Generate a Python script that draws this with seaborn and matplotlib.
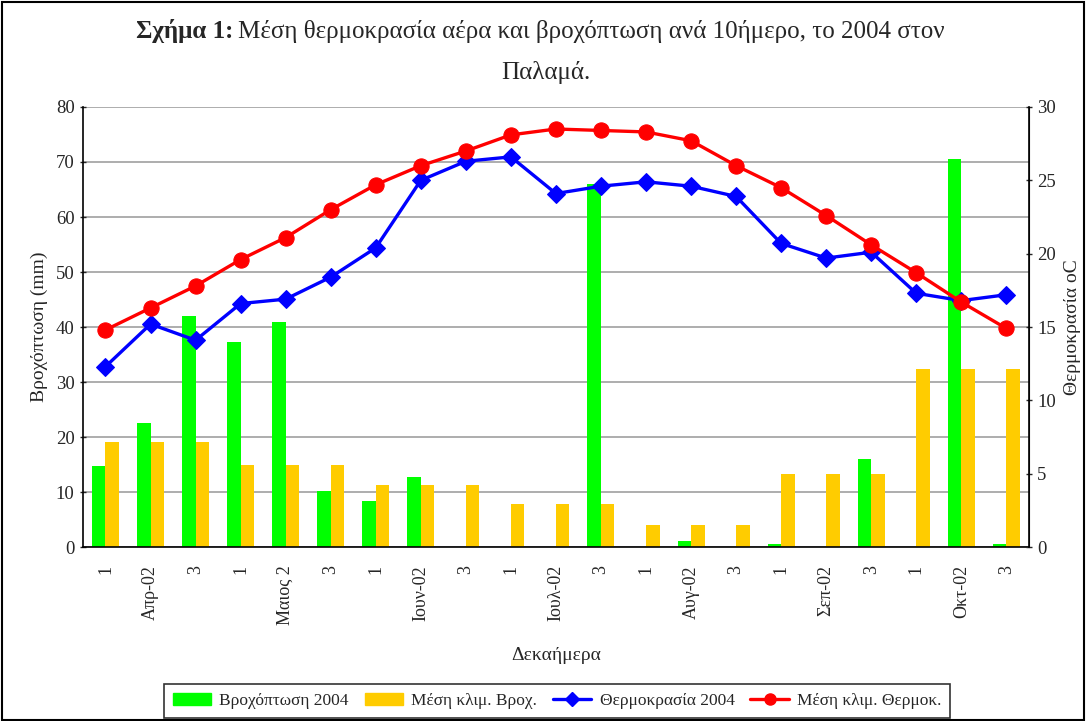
import numpy as np
import pandas as pd
import seaborn as sns
import matplotlib.pyplot as plt
from matplotlib.lines import Line2D
from matplotlib.patches import Patch, Rectangle

# Data (21 ten-day periods, April - October)
tick_labels = ['1', 'Απρ-02', '3', '1', 'Μαιος 2', '3', '1', 'Ιουν-02', '3',
               '1', 'Ιουλ-02', '3', '1', 'Αυγ-02', '3', '1', 'Σεπ-02', '3',
               '1', 'Οκτ-02', '3']
rain_2004 = [14.8, 22.5, 42.0, 37.3, 41.0, 10.2, 8.4, 12.7, 0.0, 0.0, 0.0,
             66.0, 0.0, 1.1, 0.0, 0.5, 0.0, 16.0, 0.0, 70.5, 0.5]
rain_clim = [19.1, 19.1, 19.1, 15.0, 15.0, 15.0, 11.3, 11.3, 11.3, 7.8, 7.8,
             7.8, 4.0, 4.0, 4.0, 13.3, 13.3, 13.3, 32.3, 32.3, 32.3]
temp_2004 = [12.3, 15.2, 14.1, 16.6, 16.9, 18.4, 20.4, 25.0, 26.3, 26.6, 24.1,
             24.6, 24.9, 24.6, 23.9, 20.7, 19.7, 20.1, 17.3, 16.8, 17.2]
temp_clim = [14.8, 16.3, 17.8, 19.6, 21.1, 23.0, 24.7, 26.0, 27.0, 28.1, 28.5,
             28.4, 28.3, 27.7, 26.0, 24.5, 22.6, 20.6, 18.7, 16.7, 14.9]

rain_names = ['Βροχόπτωση 2004', 'Μέση κλιμ. Βροχ.']
temp_names = ['Θερμοκρασία 2004', 'Μέση κλιμ. Θερμοκ.']

idx = np.arange(len(tick_labels))
rain_df = pd.DataFrame({
    'decade': np.concatenate([idx, idx]),
    'rain': rain_2004 + rain_clim,
    'series': [rain_names[0]] * len(idx) + [rain_names[1]] * len(idx),
})

sns.set_style('white')
plt.rcParams['font.family'] = ['Liberation Serif', 'DejaVu Serif']

fig = plt.figure(figsize=(10.86, 7.21), dpi=100)
ax = fig.add_axes([0.0764, 0.2413, 0.871, 0.6103])

sns.barplot(data=rain_df, x='decade', y='rain', hue='series',
            hue_order=rain_names, palette=['#00FF00', '#FFCC00'],
            width=0.6, gap=0, saturation=1, legend=False, ax=ax)
for p in ax.patches:
    p.set_edgecolor('none')

ax.set_xlim(-0.5, len(idx) - 0.5)
ax.set_ylim(0, 80)
ax.set_yticks(np.arange(0, 81, 10))
ax.yaxis.grid(True, color='#A0A0A0', linewidth=1.2)
ax.set_axisbelow(True)
ax.set_xticks(idx)
ax.set_xticklabels(tick_labels, rotation=90, fontsize=13)
ax.set_xticks(np.arange(-0.5, len(idx), 1), minor=True)
ax.tick_params(axis='x', which='major', length=0, pad=13)
ax.tick_params(axis='x', which='minor', length=7, width=1, direction='out')
ax.tick_params(axis='y', labelsize=13.5, length=5, width=1, direction='inout')
ax.set_xlabel('Δεκαήμερα', fontsize=14, labelpad=16)
ax.set_ylabel('Βροχόπτωση (mm)', fontsize=14, labelpad=6)
for s in ['left', 'bottom']:
    ax.spines[s].set_color('black')
    ax.spines[s].set_linewidth(1.2)
ax.spines['top'].set_visible(False)

ax2 = ax.twinx()
sns.lineplot(x=idx, y=temp_2004, ax=ax2, color='#0000FF', linewidth=2.4,
             marker='D', markersize=9, markeredgecolor='#0000FF')
sns.lineplot(x=idx, y=temp_clim, ax=ax2, color='#FF0000', linewidth=2.4,
             marker='o', markersize=11, markeredgecolor='#FF0000')
ax2.set_ylim(0, 30)
ax2.set_yticks(np.arange(0, 31, 5))
ax2.tick_params(axis='y', labelsize=13.5, length=5, width=1, direction='inout')
ax2.set_ylabel('Θερμοκρασία oC', fontsize=14, rotation=90, labelpad=6)
ax2.spines['right'].set_color('black')
ax2.spines['right'].set_linewidth(1.2)
ax2.spines['top'].set_visible(False)
ax2.spines['left'].set_visible(False)
ax2.spines['bottom'].set_visible(False)

# title with bold lead-in
fig.text(0.2150, 0.957, 'Σχήμα 1:', fontsize=18, fontweight='bold',
         ha='right', va='center')
fig.text(0.2190, 0.957,
         'Μέση θερμοκρασία αέρα και βροχόπτωση ανά 10ήμερο, το 2004 στον',
         fontsize=18, ha='left', va='center')
fig.text(0.503, 0.900, 'Παλαμά.', fontsize=18, ha='center', va='center')

handles = [Patch(color='#00FF00', label=rain_names[0]),
           Patch(color='#FFCC00', label=rain_names[1]),
           Line2D([], [], color='#0000FF', lw=2.4, marker='D', markersize=7,
                  label=temp_names[0]),
           Line2D([], [], color='#FF0000', lw=2.4, marker='o', markersize=8,
                  label=temp_names[1])]
leg = fig.legend(handles=handles, loc='center', bbox_to_anchor=(0.513, 0.028),
                 ncol=4, fontsize=12.5, frameon=True, fancybox=False,
                 edgecolor='black', handlelength=2.2, columnspacing=0.9,
                 handletextpad=0.5, borderpad=0.5)
leg.get_frame().set_linewidth(1.2)

fig.patches.append(Rectangle((0.002, 0.002), 0.996, 0.995, transform=fig.transFigure,
                             fill=False, edgecolor='black', linewidth=1.5))

fig.savefig('out.png', dpi=100)
